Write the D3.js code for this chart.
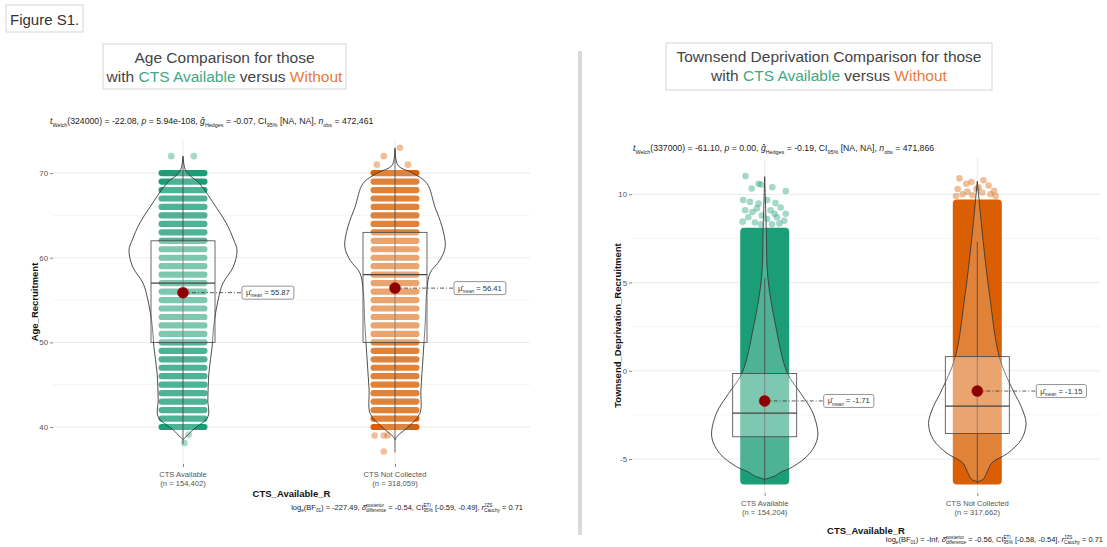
<!DOCTYPE html>
<html><head><meta charset="utf-8">
<script src="https://cdn.jsdelivr.net/npm/d3@7"></script>
<style>
body{margin:0;background:#fff}
svg{display:block}
text{font-family:"Liberation Sans",Arial,Helvetica,sans-serif;white-space:pre}
</style>
</head><body>
<svg id="c" width="1107" height="547"></svg>
<script>
// ---------------- DATA ----------------
const groups = ["CTS Available", "CTS Not Collected"];
const groupColors = ["#1b9e77", "#d95f02"];
const ageGroupN = ["154,402", "318,059"];
const tdiGroupN = ["154,204", "317,662"];

const ageLevels = [40,41,42,43,44,45,46,47,48,49,50,51,52,53,54,55,56,57,58,59,60,61,62,63,64,65,66,67,68,69,70];
const ageTicks = [40, 50, 60, 70];
const ageMinorTicks = [45, 55, 65];
const tdiTicks = [-5, 0, 5, 10];
const tdiMinorTicks = [-2.5, 2.5, 7.5];

// box stats: [whisker low, Q1, median, Q3, whisker high]
const ageBoxAvailable = [38, 50, 57, 62, 72];
const ageBoxNotCollected = [37, 50, 58, 63, 73];
const tdiBoxAvailable = [-6.4, -3.74, -2.4, -0.15, 5.25];
const tdiBoxNotCollected = [-6.4, -3.56, -2.0, 0.8, 7.3];

const ageMeans = [55.87, 56.41];
const tdiMeans = [-1.71, -1.15];

// violin density profiles: [value, relative half-width]
const ageViolinAvailable = [[72,0],[70.2,0.056],[68.8,0.3],[66,0.61],[64.1,0.8],[62.1,0.94],[60.9,1],[58.9,0.93],[57,0.74],[55,0.65],[52,0.57],[49.5,0.54],[46.4,0.48],[43.2,0.46],[41.2,0.46],[39.7,0.19],[38.5,0]];
const ageViolinNotCollected = [[72.9,0],[70.9,0.056],[70,0.33],[68.8,0.59],[66,0.74],[63.7,0.87],[61.3,0.93],[59.7,0.83],[58.2,0.65],[56.2,0.59],[52.3,0.56],[48.3,0.52],[44.4,0.48],[41.6,0.46],[40,0.24],[38.9,0.04],[38.5,0]];
const tdiViolinAvailable = [[11.0,0],[8,0.03],[5.34,0.057],[2.5,0.21],[-0.15,0.43],[-1.28,0.68],[-2.4,0.91],[-3.74,1],[-4.68,0.85],[-5.44,0.53],[-5.75,0.3],[-5.95,0.2],[-6.05,0.11],[-6.15,0]];
const tdiViolinNotCollected = [[10.74,0],[7.35,0.11],[4.33,0.23],[0.74,0.42],[-1.15,0.68],[-2.04,0.83],[-3.0,0.92],[-3.9,0.83],[-4.68,0.57],[-5.2,0.28],[-5.7,0.19],[-6.15,0.11],[-6.28,0]];

// isolated points: [value, jitter as fraction of half band]
const ageOutliersAvailable = [[72,-0.48],[72,0.44],[39.1,0.23],[38.1,0.06]];
const ageOutliersNotCollected = [[73,0.2],[72,-0.46],[71,-0.74],[71,0.53],[39,-0.83],[39,-0.46],[39,-0.3],[37.1,-0.46]];

// dense jittered range [low, top] for Townsend
const tdiDenseAvailable = [-6.45, 8.1];
const tdiDenseNotCollected = [-6.45, 9.7];
const tdiSparseAvailable = [[11.03,-0.78],[10.6,-0.25],[10.55,-0.15],[10.33,-0.53],[10.4,0.31],[10.19,0.86],[9.67,-0.88],[9.57,-0.6],[9.47,-0.25],[9.67,0.1],[9.5,0.44],[9.25,0.65],[9.1,0.24],[9.2,-0.32],[9.1,-0.8],[8.9,0.86],[8.7,-0.67],[8.8,-0.11],[8.7,0.5],[8.4,-0.4],[8.3,0.3],[8.5,0.8],[8.45,-0.9],[8.6,0.1],[8.35,0.6],[8.3,-0.15],[9.0,-0.5],[8.9,0.4]];
const tdiSparseNotCollected = [[10.9,-0.73],[10.6,-0.45],[10.7,-0.24],[10.8,0.25],[10.5,0.46],[10.2,0.68],[10.3,-0.8],[10.0,-0.6],[10.0,0.54],[10.3,-0.03],[9.9,0.75],[9.9,-0.87],[10.1,0.2],[10.4,0.05],[9.95,-0.2],[10.15,-0.4]];

// statistics text
const ageWelch = ["324000", "-22.08", "5.94e-108", "-0.07", "472,461"];
const ageBayes = ["-227.49", "-0.54", "[-0.59, -0.49]", "0.71"];
const tdiWelch = ["337000", "-61.10", "0.00", "-0.19", "471,866"];
const tdiBayes = ["-Inf", "-0.56", "[-0.58, -0.54]", "0.71"];

// ---------------- DRAWING ----------------
const svg = d3.select("#c");
const FONT = '"Liberation Sans",Arial,Helvetica,sans-serif';

function rich(parent, x, y, segs, size, anchor, color) {
  const g = parent.append("g");
  let cx = 0;
  segs.forEach(s => {
    const m = g.append("text").attr("x", cx).attr("y", 0).attr("xml:space", "preserve")
      .style("font-size", size + "px").style("font-style", s.it ? "italic" : "normal")
      .attr("fill", color).text(s.t);
    cx += m.node().getComputedTextLength();
    let ew = 0;
    if (s.sup) {
      const e = g.append("text").attr("x", cx).attr("y", -size * 0.42)
        .style("font-size", (size * 0.62) + "px").attr("fill", color).text(s.sup);
      ew = Math.max(ew, e.node().getComputedTextLength());
    }
    if (s.sub) {
      const e = g.append("text").attr("x", cx).attr("y", size * 0.3)
        .style("font-size", (size * 0.62) + "px").attr("fill", color).text(s.sub);
      ew = Math.max(ew, e.node().getComputedTextLength());
    }
    cx += ew;
  });
  const dx = anchor === "end" ? -cx : anchor === "middle" ? -cx / 2 : 0;
  g.attr("transform", `translate(${x + dx},${y})`);
  return {g, width: cx};
}

function welchSegs(w) {
  return [{t:"t", it:true, sub:"Welch"}, {t:"(" + w[0] + ") = " + w[1] + ", "}, {t:"p", it:true},
    {t:" = " + w[2] + ", "}, {t:"\u011D", it:true, sub:"Hedges"}, {t:" = " + w[3] + ", CI", sub:"95%"},
    {t:" [NA, NA], "}, {t:"n", it:true, sub:"obs"}, {t:" = " + w[4]}];
}
function bayesSegs(b) {
  return [{t:"log", sub:"e"}, {t:"(BF", sub:"01"}, {t:") = " + b[0] + ", "},
    {t:"\u03B4\u0302", it:true, sup:"posterior", sub:"difference"}, {t:" = " + b[1] + ", CI", sup:"ETI", sub:"95%"},
    {t:" " + b[2] + ", "}, {t:"r", it:true, sup:"JZS", sub:"Cauchy"}, {t:" = " + b[3]}];
}

function panel(c) {
  const g = svg.append("g");
  const x = d3.scalePoint().domain(groups).range(c.xRange);
  const y = d3.scaleLinear().domain(c.yDomain).range(c.yRange);
  const w = d3.scaleLinear().domain([0, 1]).range([0, c.violinMax]);
  const half = 24.5;

  // grid
  g.selectAll(".minor").data(c.minor).join("line")
    .attr("x1", c.plotX[0]).attr("x2", c.plotX[1]).attr("y1", d => y(d)).attr("y2", d => y(d))
    .attr("stroke", "#f3f3f3").attr("stroke-width", 0.8);
  g.selectAll(".major").data(c.ticks).join("line")
    .attr("x1", c.plotX[0]).attr("x2", c.plotX[1]).attr("y1", d => y(d)).attr("y2", d => y(d))
    .attr("stroke", "#e8e8e8").attr("stroke-width", 0.9);
  g.selectAll(".vgrid").data(groups).join("line")
    .attr("x1", d => x(d)).attr("x2", d => x(d)).attr("y1", c.plotY[0]).attr("y2", c.plotY[1])
    .attr("stroke", "#e8e8e8").attr("stroke-width", 0.9);

  groups.forEach((grp, i) => {
    const cx = x(grp), col = groupColors[i];
    // points
    if (c.rows) {
      g.selectAll(null).data(c.rows).join("rect")
        .attr("x", cx - half).attr("width", half * 2)
        .attr("y", d => y(d) - 3.1).attr("height", 6.2).attr("rx", 3.1)
        .attr("fill", col);
    } else {
      const r = c.dense[i];
      g.append("rect").attr("x", cx - half).attr("width", half * 2)
        .attr("y", y(r[1])).attr("height", y(r[0]) - y(r[1])).attr("rx", 4)
        .attr("fill", col);
    }
    g.selectAll(null).data(c.sparse[i]).join("circle")
      .attr("cx", d => cx + d[1] * half).attr("cy", d => y(d[0])).attr("r", 3.3)
      .attr("fill", col).attr("fill-opacity", 0.4);

    // violin
    const area = d3.area().y(d => y(d[0])).x0(d => cx - w(d[1])).x1(d => cx + w(d[1]))
      .curve(d3.curveCatmullRom.alpha(0.5));
    g.append("path").datum(c.violins[i]).attr("d", area)
      .attr("fill", "#fff").attr("fill-opacity", 0.22)
      .attr("stroke", "#3a3a3a").attr("stroke-width", 0.9);

    // box
    const b = c.boxes[i];
    g.append("line").attr("x1", cx).attr("x2", cx).attr("y1", y(b[0])).attr("y2", y(b[4]))
      .attr("stroke", "#444").attr("stroke-width", 0.8);
    g.append("rect").attr("x", cx - 32).attr("width", 64)
      .attr("y", y(b[3])).attr("height", y(b[1]) - y(b[3]))
      .attr("fill", "#fff").attr("fill-opacity", 0.28)
      .attr("stroke", "#444").attr("stroke-width", 0.8);
    g.append("line").attr("x1", cx - 32).attr("x2", cx + 32).attr("y1", y(b[2])).attr("y2", y(b[2]))
      .attr("stroke", "#444").attr("stroke-width", 1.3);

    // mean
    const my = y(c.means[i]);
    const lab = rich(g, 0, 0, [{t:"\u03BC\u0302", sub:"mean"}, {t:" = " + c.means[i].toFixed(2)}], 7.6, "start", "#333");
    const bx = cx + 59, bw = lab.width + 8;
    g.append("line").attr("x1", cx).attr("x2", bx).attr("y1", my).attr("y2", my)
      .attr("stroke", "#333").attr("stroke-width", 0.8).attr("stroke-dasharray", "4,2,1,2");
    g.append("rect").attr("x", bx).attr("y", my - 6.5).attr("width", bw).attr("height", 13).attr("rx", 2)
      .attr("fill", "#fff").attr("stroke", "#777").attr("stroke-width", 0.8);
    lab.g.raise().attr("transform", `translate(${bx + 4},${my + 2.5})`);
    g.append("circle").attr("cx", cx).attr("cy", my).attr("r", 5.5)
      .attr("fill", "#8b0000").attr("stroke", "#a00").attr("stroke-width", 0.5);
  });

  // y axis
  const ya = g.append("g").attr("transform", `translate(${c.plotX[0]},0)`)
    .call(d3.axisLeft(y).tickValues(c.ticks).tickSize(3).tickPadding(2).tickFormat(d => String(d)));
  ya.select(".domain").remove();
  ya.selectAll("line").attr("stroke", "#888");
  ya.selectAll("text").attr("fill", "#555").style("font-size", "7.8px").style("font-family", FONT);

  // x axis
  const xa = g.append("g").attr("transform", `translate(0,${c.plotY[1]})`)
    .call(d3.axisBottom(x).tickSize(3).tickFormat(""));
  xa.select(".domain").remove();
  xa.selectAll("line").attr("stroke", "#888");
  groups.forEach((grp, i) => {
    const t = g.append("text").attr("text-anchor", "middle").attr("fill", "#555")
      .style("font-size", "7.6px");
    t.append("tspan").attr("x", x(grp)).attr("y", c.plotY[1] + 13).text(grp);
    t.append("tspan").attr("x", x(grp)).attr("y", c.plotY[1] + 22).text("(n = " + c.n[i] + ")");
  });

  // axis titles
  g.append("text").attr("x", (c.plotX[0] + c.plotX[1]) / 2).attr("y", c.xTitleY)
    .attr("text-anchor", "middle").style("font-size", "9.5px").style("font-weight", "bold")
    .attr("fill", "#111").text("CTS_Available_R");
  g.append("text").attr("transform", `translate(${c.yTitleX},${(c.plotY[0] + c.plotY[1]) / 2}) rotate(-90)`)
    .attr("text-anchor", "middle").style("font-size", "9.5px").style("font-weight", "bold")
    .attr("fill", "#111").text(c.yTitle);

  // subtitle and caption
  rich(g, c.subX, c.subY, welchSegs(c.welch), 8.7, "start", "#222");
  rich(g, c.capX, c.capY, bayesSegs(c.bayes), 7.5, "end", "#222");

  // title box
  const tb = c.titleBox;
  g.append("rect").attr("x", tb[0]).attr("y", tb[1]).attr("width", tb[2]).attr("height", tb[3])
    .attr("fill", "#fff").attr("stroke", "#d4d4d4").attr("stroke-width", 1);
  const tcx = tb[0] + tb[2] / 2;
  g.append("text").attr("x", tcx).attr("y", tb[1] + 18.5).attr("text-anchor", "middle")
    .style("font-size", "15.5px").attr("fill", "#444").text(c.title1);
  const t2 = g.append("text").attr("x", tcx).attr("y", tb[1] + 37.5).attr("text-anchor", "middle")
    .style("font-size", "15.5px").attr("fill", "#444");
  t2.append("tspan").text("with ");
  t2.append("tspan").attr("fill", "#3fa882").text("CTS Available");
  t2.append("tspan").text(" versus ");
  t2.append("tspan").attr("fill", "#e77c3c").text("Without");
}

// Figure label
svg.append("rect").attr("x", 6).attr("y", 5).attr("width", 77).attr("height", 27)
  .attr("fill", "#fff").attr("stroke", "#d4d4d4");
svg.append("text").attr("x", 10).attr("y", 24.5).style("font-size", "15px").attr("fill", "#333").text("Figure S1.");

// divider
svg.append("rect").attr("x", 578).attr("y", 51).attr("width", 4).attr("height", 484).attr("fill", "#d9d9d9");

panel({
  xRange: [183, 395], yDomain: [40, 70], yRange: [427, 173.1],
  plotX: [53, 530], plotY: [140, 464], violinMax: 54,
  ticks: ageTicks, minor: ageMinorTicks, rows: ageLevels,
  sparse: [ageOutliersAvailable, ageOutliersNotCollected],
  violins: [ageViolinAvailable, ageViolinNotCollected],
  boxes: [ageBoxAvailable, ageBoxNotCollected], means: ageMeans, n: ageGroupN,
  yTitle: "Age_Recruitment", yTitleX: 38, xTitleY: 497,
  welch: ageWelch, bayes: ageBayes, subX: 50, subY: 124, capX: 523, capY: 510,
  titleBox: [103, 44, 243, 45], title1: "Age Comparison for those"
});

panel({
  xRange: [764.7, 977.3], yDomain: [-5, 10], yRange: [459, 194.3],
  plotX: [632, 1100], plotY: [158, 493], violinMax: 53,
  ticks: tdiTicks, minor: tdiMinorTicks, rows: null,
  dense: [tdiDenseAvailable, tdiDenseNotCollected],
  sparse: [tdiSparseAvailable, tdiSparseNotCollected],
  violins: [tdiViolinAvailable, tdiViolinNotCollected],
  boxes: [tdiBoxAvailable, tdiBoxNotCollected], means: tdiMeans, n: tdiGroupN,
  yTitle: "Townsend_Deprivation_Recruitment", yTitleX: 621, xTitleY: 534,
  welch: tdiWelch, bayes: tdiBayes, subX: 633, subY: 151, capX: 1103, capY: 542,
  titleBox: [666, 43, 326, 47], title1: "Townsend Deprivation Comparison for those"
});
</script>
</body></html>
